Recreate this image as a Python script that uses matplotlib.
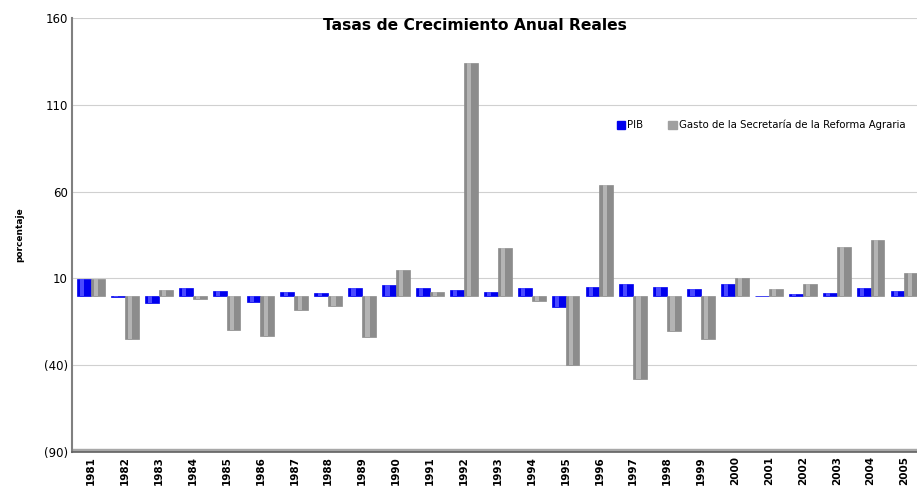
import matplotlib
matplotlib.use("Agg")
import matplotlib.pyplot as plt
import numpy as np
from matplotlib.ticker import FuncFormatter
from matplotlib.patches import Patch

years = [str(y) for y in range(1981, 2006)]
pib = [9.5, -0.6, -4.2, 4.5, 3.0, -3.5, 2.0, 1.5, 4.5, 6.3, 4.2, 3.6, 2.0, 4.4, -6.2,
       5.1, 6.8, 5.0, 3.8, 6.6, -0.2, 0.8, 1.4, 4.2, 3.0]
gasto = [9.5, -25.0, 3.5, -1.8, -19.5, -23.0, -8.0, -6.0, -24.0, 15.0, 2.0, 134.0, 27.6,
         -3.0, -40.0, 64.0, -48.0, -20.5, -25.0, 10.0, 4.0, 7.0, 28.0, 32.0, 13.0]
yticks = [-90, -40, 10, 60, 110, 160]

fig = plt.figure(figsize=(9.17, 4.88), dpi=100)
ax = fig.add_axes([72/917, (488-452)/488, 845/917, (452-18)/488])

x = np.arange(len(years))
w = 0.41
blue, blue_hi = "#0000ee", "#4a4aff"
gray, gray_hi = "#8c8c8c", "#b4b4b4"

for xs, vals, c, ch in [(x - w/2, pib, blue, blue_hi), (x + w/2, gasto, gray, gray_hi)]:
    ax.bar(xs, vals, width=w, color=c, edgecolor=c, linewidth=0.5, zorder=3)
    ax.bar(xs - w*0.12, vals, width=w*0.3, color=ch, linewidth=0, zorder=4)

ax.set_xlim(-0.56, 24.37)
ax.set_ylim(-90, 160)
ax.set_yticks(yticks)
ax.yaxis.set_major_formatter(FuncFormatter(lambda v, p: f"({abs(int(v))})" if v < 0 else f"{int(v)}"))
ax.grid(axis="y", color="#d0d0d0", linewidth=0.8, zorder=0)
ax.set_xticks(x)
ax.set_xticklabels(years, rotation=90, fontweight="bold", fontsize=7.5)
ax.tick_params(axis="x", length=0, pad=3)
ax.tick_params(axis="y", length=0, labelsize=8.5, pad=3)

for s in ["top", "right"]:
    ax.spines[s].set_visible(False)
ax.spines["left"].set_color("#808080")
ax.spines["left"].set_linewidth(1.5)
ax.spines["bottom"].set_color("#606060")
ax.spines["bottom"].set_linewidth(1.2)
ax.axhspan(-90, -88.5, color="#a8a8a8", zorder=2)

ax.set_ylabel("porcentaje", fontsize=6.5, fontweight="bold", labelpad=14)
fig.text(475/917, 1 - 25/488, "Tasas de Crecimiento Anual Reales", ha="center", va="center",
         fontsize=11.2, fontweight="bold")

handles = [Patch(color=blue, label="PIB"), Patch(color="#a0a0a0", label="Gasto de la Secretaría de la Reforma Agraria")]
leg = ax.legend(handles=handles, ncol=2, frameon=False, fontsize=7.3, loc="center",
                bbox_to_anchor=(761/917, 1 - 125/488), bbox_transform=fig.transFigure,
                handlelength=0.8, handleheight=0.8, handletextpad=0.2, columnspacing=2.5)

fig.savefig("out.png", dpi=100)
